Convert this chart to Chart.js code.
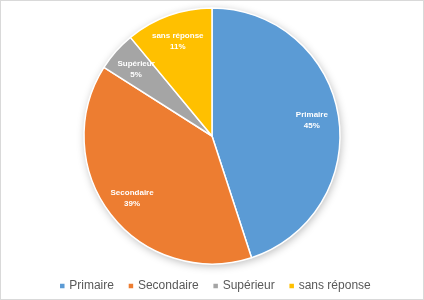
<!DOCTYPE html>
<html>
<head>
<meta charset="utf-8">
<script src="https://cdn.jsdelivr.net/npm/chart.js@4"></script>
<style>
  html, body { margin: 0; padding: 0; background: #fff; }
  #wrap { width: 424px; height: 300px; }
</style>
</head>
<body>
<div id="wrap"><canvas id="myChart" width="424" height="300"></canvas></div>
<script>
const categories = ["Primaire", "Secondaire", "Supérieur", "sans réponse"];
const values = [45, 39, 5, 11];
const colors = ["#5B9BD5", "#ED7D31", "#A5A5A5", "#FFC000"];

// soft shadow under the pie + thin frame round the chart
const pieShadow = {
  id: "pieShadow",
  beforeDatasetsDraw(chart) {
    const arc = chart.getDatasetMeta(0).data[0];
    if (!arc) return;
    const ctx = chart.ctx;
    ctx.save();
    ctx.shadowColor = "rgba(0,0,0,0.28)";
    ctx.shadowBlur = 9;
    ctx.shadowOffsetX = 1;
    ctx.shadowOffsetY = 2;
    ctx.fillStyle = "#fff";
    ctx.beginPath();
    ctx.arc(arc.x, arc.y, arc.outerRadius, 0, Math.PI * 2);
    ctx.fill();
    ctx.restore();
  },
  afterDraw(chart) {
    const ctx = chart.ctx;
    ctx.save();
    ctx.strokeStyle = "#d9d9d9";
    ctx.lineWidth = 1;
    ctx.strokeRect(0.5, 0.5, chart.width - 1, chart.height - 1);
    ctx.restore();
  },
};

// slice labels: name + percent
const sliceLabels = {
  id: "sliceLabels",
  afterDatasetsDraw(chart) {
    const ctx = chart.ctx;
    const meta = chart.getDatasetMeta(0);
    const total = values.reduce((a, b) => a + b, 0);
    ctx.save();
    ctx.fillStyle = "#fff";
    ctx.font = "bold 8px 'Liberation Sans', Arial, sans-serif";
    ctx.textAlign = "center";
    ctx.textBaseline = "middle";
    meta.data.forEach((arc, i) => {
      const mid = (arc.startAngle + arc.endAngle) / 2;
      const r = arc.outerRadius * 0.79;
      const x = arc.x + Math.cos(mid) * r;
      const y = arc.y + Math.sin(mid) * r;
      const pct = Math.round((values[i] / total) * 100) + "%";
      ctx.fillText(categories[i], x, y - 5);
      ctx.fillText(pct, x, y + 6);
    });
    ctx.restore();
  },
};

// nudge the legend a little
const legendShift = {
  id: "legendShift",
  afterLayout(chart) {
    chart.legend.top += 2;
    chart.legend.bottom += 2;
    chart.legend.left += 4;
    chart.legend.right += 4;
  },
};

const config = {
  type: "pie",
  data: {
    labels: categories,
    datasets: [
      {
        data: values,
        backgroundColor: colors,
        borderColor: "#fff",
        borderWidth: 1.5,
        radius: 128,
      },
    ],
  },
  options: {
    responsive: false,
    animation: false,
    layout: {
      padding: { top: 10 },
    },
    plugins: {
      legend: {
        position: "bottom",
        labels: {
          usePointStyle: true,
          pointStyle: "rect",
          boxWidth: 2,
          boxHeight: 6,
          padding: 16,
          color: "#595959",
          font: { family: "'Liberation Sans', Arial, sans-serif", size: 12 },
        },
      },
      tooltip: { enabled: false },
    },
  },
  plugins: [pieShadow, sliceLabels, legendShift],
};

const myChart = new Chart(document.getElementById("myChart"), config);
</script>
</body>
</html>
